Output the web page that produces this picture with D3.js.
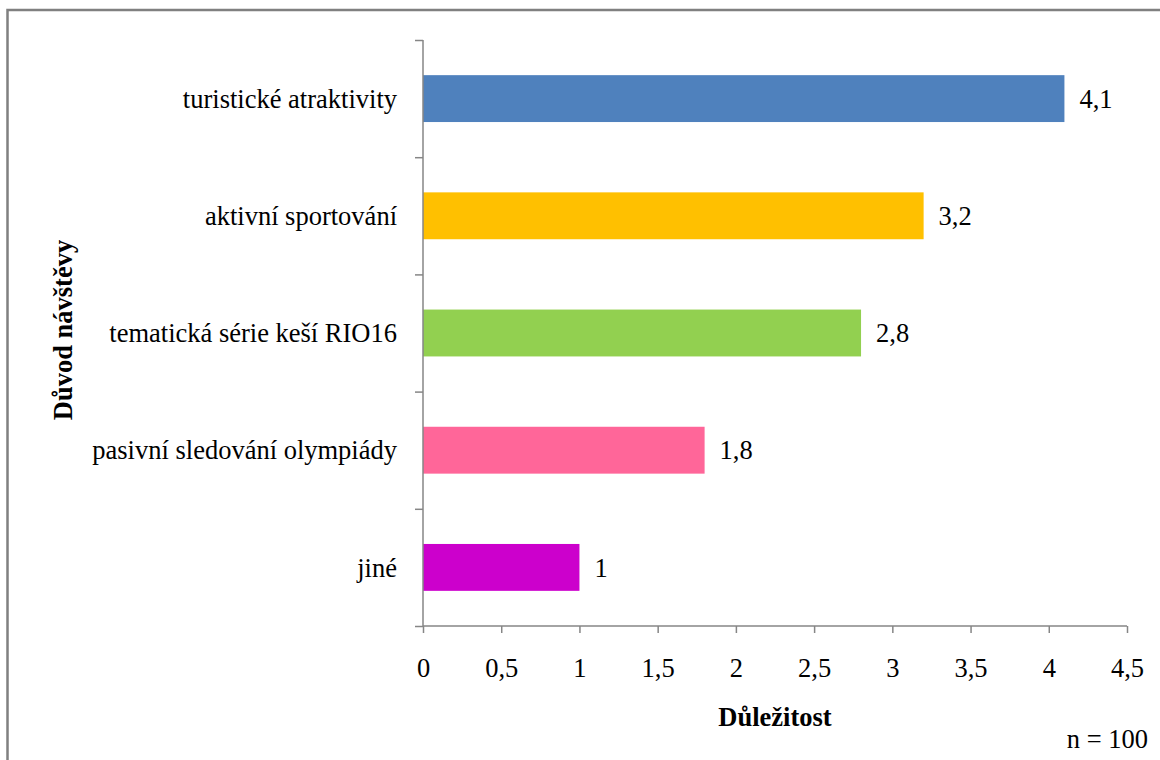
<!DOCTYPE html>
<html>
<head>
<meta charset="utf-8">
<script src="https://cdn.jsdelivr.net/npm/d3@7"></script>
<style>
  html, body { margin: 0; padding: 0; background: #fff; }
  svg { display: block; }
  svg text { font-family: 'Liberation Serif', 'Times New Roman', serif !important; fill: #000; }
</style>
</head>
<body>
<svg id="chart" width="1160" height="760"></svg>
<script>
// Reasons for visiting, top to bottom, with mean importance scores
const categories = [
  "turistické atraktivity",
  "aktivní sportování",
  "tematická série keší RIO16",
  "pasivní sledování olympiády",
  "jiné"
];
const values = [4.1, 3.2, 2.8, 1.8, 1];
const colors = ["#4F81BD", "#FFC000", "#92D050", "#FF6699", "#CC00CC"];
const xTicks = [0, 0.5, 1, 1.5, 2, 2.5, 3, 3.5, 4, 4.5];
const xTitle = "Důležitost";
const yTitle = "Důvod návštěvy";
const note = "n = 100";

const svg = d3.select("#chart");
const axisColor = "#868686";
const fontSize = 26.5;
const fmt = v => String(v).replace(".", ",");

// frame around the chart area
svg.append("rect")
  .attr("x", 7.5).attr("y", 10)
  .attr("width", 1170).attr("height", 780)
  .attr("fill", "none")
  .attr("stroke", "#808080")
  .attr("stroke-width", 2.5);

const plot = { left: 423, right: 1127, top: 40, bottom: 626 };

const x = d3.scaleLinear().domain([0, 4.5]).range([plot.left, plot.right]);
const y = d3.scaleBand()
  .domain(categories)
  .range([plot.top, plot.bottom])
  .paddingInner(0.6)
  .paddingOuter(0.3);

// bars
svg.append("g").selectAll("rect")
  .data(categories)
  .join("rect")
  .attr("x", x(0))
  .attr("y", d => y(d))
  .attr("width", (d, i) => x(values[i]) - x(0))
  .attr("height", y.bandwidth())
  .attr("fill", (d, i) => colors[i]);

// value labels
svg.append("g").selectAll("text")
  .data(categories)
  .join("text")
  .attr("x", (d, i) => x(values[i]) + 15)
  .attr("y", d => y(d) + y.bandwidth() / 2)
  .attr("dy", "0.35em")
  .attr("font-size", fontSize)
  .text((d, i) => fmt(values[i]));

// x axis
const xAxis = svg.append("g")
  .attr("transform", `translate(0,${plot.bottom})`)
  .call(d3.axisBottom(x).tickValues(xTicks).tickSize(7).tickPadding(25).tickFormat(fmt));
xAxis.select(".domain").attr("stroke", axisColor).attr("stroke-width", 1.5)
  .attr("d", `M${plot.left},0H${plot.right}`);
xAxis.selectAll(".tick line").attr("stroke", axisColor).attr("stroke-width", 1.5);
xAxis.selectAll(".tick text")
  .attr("font-size", fontSize)
  .attr("fill", "#000");

// y axis: ticks at band boundaries
const yEdges = d3.scaleLinear().domain([0, categories.length]).range([plot.bottom, plot.top]);
const yAxis = svg.append("g")
  .attr("transform", `translate(${plot.left},0)`)
  .call(d3.axisLeft(yEdges).tickValues(d3.range(categories.length + 1)).tickSize(8).tickFormat(""));
yAxis.select(".domain").attr("stroke", axisColor).attr("stroke-width", 1.5)
  .attr("d", `M0,${plot.top}V${plot.bottom}`);
yAxis.selectAll(".tick line").attr("stroke", axisColor).attr("stroke-width", 1.5);

// category labels
svg.append("g").selectAll("text")
  .data(categories)
  .join("text")
  .attr("x", 397)
  .attr("y", d => y(d) + y.bandwidth() / 2)
  .attr("dy", "0.35em")
  .attr("text-anchor", "end")
  .attr("font-size", fontSize)
  .text(d => d);

// axis titles
svg.append("text")
  .attr("x", 775).attr("y", 726)
  .attr("text-anchor", "middle")
  .attr("font-size", fontSize)
  .attr("font-weight", "bold")
  .text(xTitle);

svg.append("text")
  .attr("transform", "translate(72,330) rotate(-90)")
  .attr("text-anchor", "middle")
  .attr("font-size", fontSize)
  .attr("font-weight", "bold")
  .text(yTitle);

svg.append("text")
  .attr("x", 1148).attr("y", 748)
  .attr("text-anchor", "end")
  .attr("font-size", fontSize)
  .text(note);
</script>
</body>
</html>
